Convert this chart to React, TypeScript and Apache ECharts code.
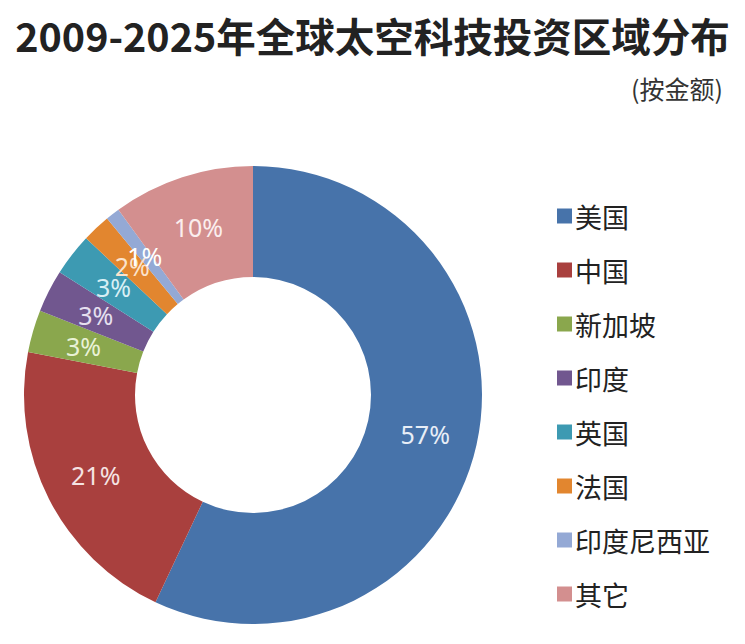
import React, { useEffect, useRef } from "react";
import * as echarts from "echarts";

const categories = ["美国", "中国", "新加坡", "印度", "英国", "法国", "印度尼西亚", "其它"];
const values = [57, 21, 3, 3, 3, 2, 1, 10];
const colors = ["#4773AA", "#A9403E", "#8AA74D", "#71578F", "#3D9AB2", "#E2862F", "#94A9D5", "#D38F8F"];
const labelColors = ["#E8EEF7", "#F5E3E3", "#E9F2D6", "#E6E0F0", "#D8EFF5", "#FBE3CC", "#FFFFFF", "#FBEEEE"];

export default function App() {
  const ref = useRef<HTMLDivElement>(null);
  useEffect(() => {
    document.body.style.margin = "0";
    const chart = echarts.init(ref.current!, null, { renderer: "svg" });
    chart.setOption({
      animation: false,
      backgroundColor: "#ffffff",
      title: [
        {
          text: "2009-2025年全球太空科技投资区域分布",
          left: "center",
          top: 10,
          textStyle: { fontSize: 39.5, fontWeight: "bold", color: "#222222", fontFamily: "Noto Sans CJK SC" },
        },
        {
          text: "(按金额)",
          right: 17,
          top: 70,
          textStyle: { fontSize: 25, fontWeight: "normal", color: "#333333", fontFamily: "Noto Sans CJK SC" },
        },
      ],
      legend: {
        orient: "vertical",
        left: 552,
        top: 195,
        height: 445,
        itemWidth: 15,
        itemHeight: 15,
        itemGap: 22,
        icon: "rect",
        data: categories,
        textStyle: { fontSize: 27, color: "#222222", fontFamily: "Noto Sans CJK SC", padding: [0, 0, 0, -2], lineHeight: 32 },
      },
      series: [
        {
          type: "pie",
          center: [253, 395],
          radius: [118, 229],
          startAngle: 90,
          clockwise: true,
          minShowLabelAngle: 0,
          labelLayout: { hideOverlap: false },
          avoidLabelOverlap: false,
          data: categories.map((name, i) => ({
            name,
            value: values[i],
            itemStyle: { color: colors[i] },
            label: { color: labelColors[i] },
          })),
          itemStyle: { borderColor: "#ffffff", borderWidth: 0 },
          label: {
            show: true,
            position: "inside",
            formatter: (p: any) => p.value + "%",
            fontSize: 25,
            fontFamily: "Noto Sans",
          },
          labelLine: { show: false },
        },
      ],
    });
    return () => chart.dispose();
  }, []);
  return <div ref={ref} style={{ width: 745, height: 644 }} />;
}
